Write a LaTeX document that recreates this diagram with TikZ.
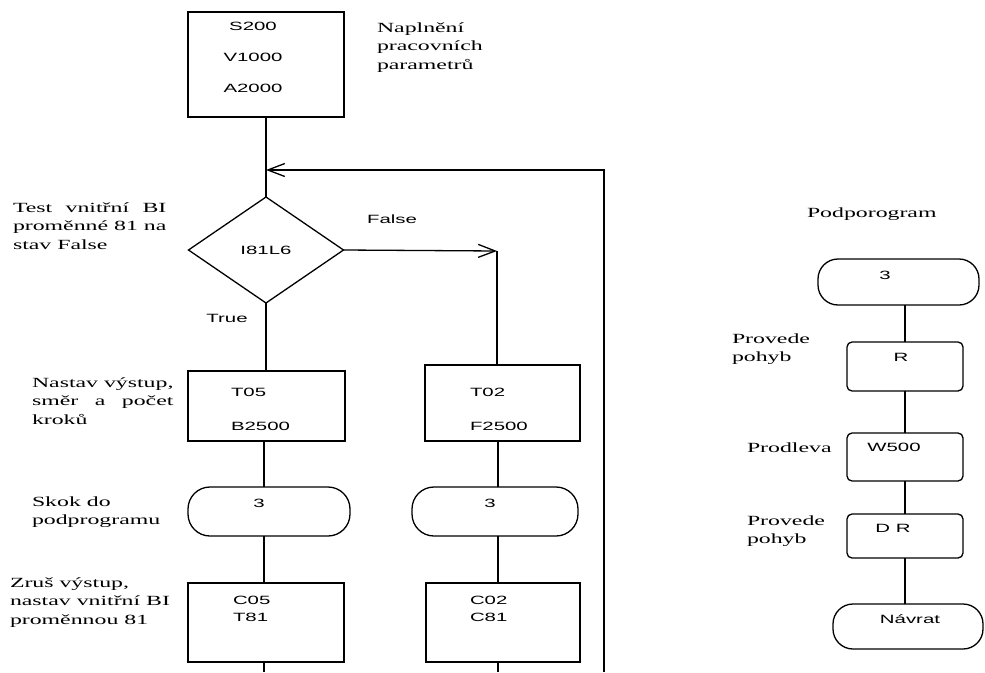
\documentclass[tikz,border=0pt]{standalone}
\usepackage{fontspec}
\usepackage{calc}
\setmainfont{Liberation Serif}[FakeStretch=1.7]
\newfontfamily\boxfont{Liberation Sans}[FakeStretch=1.7]
\usetikzlibrary{arrows.meta,shapes.geometric}
\begin{document}
\begin{tikzpicture}[x=1pt,y=-1pt,
  every node/.style={inner sep=0pt, outer sep=0pt},
  line/.style={draw=black, line width=1.3pt},
  rect/.style={draw=black, line width=1.3pt, rectangle},
  rrect/.style={rect, rounded corners=5pt},
  term/.style={rect, rounded corners=22pt},
  sterm/.style={rect, rounded corners=20pt},
  lbl/.style={anchor=north west, align=left, font=\fontsize{14}{18.5}\selectfont},
  btxt/.style={font=\boxfont\fontsize{12}{14}\selectfont},
  bleft/.style={btxt, anchor=west},
  arr/.style={-{Straight Barb[length=17pt,width=13pt]}},
]
\fill[white] (0,0) rectangle (985,672);
\useasboundingbox (0,0) rectangle (985,672);

% ---- main program ----
\node[rect, minimum width=156pt, minimum height=105pt] (top) at (266,64.5) {};
\node[btxt] (s200) at (253,26) {S200};
\node[btxt] (v1000) at (253,57) {V1000};
\node[btxt] (a2000) at (253,88) {A2000};
\node[lbl] (napl) at (377,21) {\rule{0pt}{11pt}Naplnění\\pracovních\\parametrů};

\node[diamond, draw=black, line width=1.3pt, minimum width=155pt, minimum height=106pt, aspect=1.46, btxt] (dia) at (266,250) {I81L6};
\node[lbl] (testl) at (13,201) {\rule{0pt}{11pt}\makebox[\widthof{proměnné 81 na}][s]{Test vnitřní BI}\\proměnné 81 na\\stav False};
\node[btxt] (false) at (392,219) {False};
\node[btxt] (true) at (227,318) {True};

\node[rect, minimum width=157pt, minimum height=70pt] (t05box) at (266.5,406) {};
\node[bleft] (t05) at (231,392) {T05};
\node[bleft] (b2500) at (231,426) {B2500};
\node[rect, minimum width=155pt, minimum height=76pt] (t02box) at (502.5,403) {};
\node[bleft] (t02) at (470,392) {T02};
\node[bleft] (f2500) at (470,426) {F2500};
\node[lbl] (nastav) at (32,376) {\rule{0pt}{11pt}Nastav výstup,\\\makebox[\widthof{Nastav výstup,}][s]{směr a počet}\\kroků};

\node[term, minimum width=162pt, minimum height=49pt] (term1) at (269,511.5) {};
\node[btxt] (n3a) at (259,503) {3};
\node[term, minimum width=166pt, minimum height=49pt] (term2) at (495,511.5) {};
\node[btxt] (n3b) at (490,503) {3};
\node[lbl] (skok) at (32,495) {\rule{0pt}{11pt}Skok do\\podprogramu};

\node[rect, minimum width=156pt, minimum height=79pt] (c05box) at (266,622.5) {};
\node[bleft] (c05) at (233,600) {C05};
\node[bleft] (t81) at (233,617) {T81};
\node[rect, minimum width=154pt, minimum height=79pt] (c02box) at (503,622.5) {};
\node[bleft] (c02) at (470,600) {C02};
\node[bleft] (c81) at (470,617) {C81};
\node[lbl] (zrus) at (10,576) {\rule{0pt}{11pt}Zruš výstup,\\nastav vnitřní BI\\proměnnou 81};

\coordinate (j) at (266,170);
\coordinate (rt) at (604,170);
\coordinate (rb) at (604,672);
\coordinate (fc) at (497,251);
\coordinate (cl) at (264,0);
\coordinate (cr) at (498,0);
\coordinate (bot) at (0,672);

\draw[line] (top.south) -- (dia.north);
\draw[line, arr] (rb) -- (rt) -- (j);
\draw[line, arr] (dia.east) -- (fc);
\draw[line] (fc) -- (fc |- t02box.north);
\draw[line] (dia.south) -- (dia.south |- t05box.north);
\draw[line] (cl |- t05box.south) -- (cl |- term1.north);
\draw[line] (cl |- term1.south) -- (cl |- c05box.north);
\draw[line] (cl |- c05box.south) -- (cl |- bot);
\draw[line] (cr |- t02box.south) -- (cr |- term2.north);
\draw[line] (cr |- term2.south) -- (cr |- c02box.north);
\draw[line] (cr |- c02box.south) -- (cr |- bot);

% ---- subprogram ----
\node[lbl] (podp) at (807,206) {\rule{0pt}{11pt}Podporogram};
\node[sterm, minimum width=161pt, minimum height=46pt] (sterm) at (898.5,282) {};
\node[btxt] (n3c) at (885,275) {3};
\node[rrect, minimum width=116pt, minimum height=49pt] (rbox) at (905,366.5) {};
\node[btxt] (rtxt) at (901,357) {R};
\node[lbl] (prov1) at (732,332) {\rule{0pt}{11pt}Provede\\pohyb};
\node[rrect, minimum width=116pt, minimum height=48pt] (wbox) at (905,457) {};
\node[btxt] (wtxt) at (894,447) {W500};
\node[lbl] (prodl) at (747,441) {\rule{0pt}{11pt}Prodleva};
\node[rrect, minimum width=116pt, minimum height=44pt] (dbox) at (905,536) {};
\node[btxt] (dtxt) at (893,528) {D R};
\node[lbl] (prov2) at (747,514) {\rule{0pt}{11pt}Provede\\pohyb};
\node[sterm, minimum width=150pt, minimum height=45pt] (nterm) at (908,626.5) {};
\node[btxt] (ntxt) at (910,619) {Návrat};

\coordinate (cs) at (905,0);
\draw[line] (cs |- sterm.south) -- (cs |- rbox.north);
\draw[line] (cs |- rbox.south) -- (cs |- wbox.north);
\draw[line] (cs |- wbox.south) -- (cs |- dbox.north);
\draw[line] (cs |- dbox.south) -- (cs |- nterm.north);
\end{tikzpicture}
\end{document}
